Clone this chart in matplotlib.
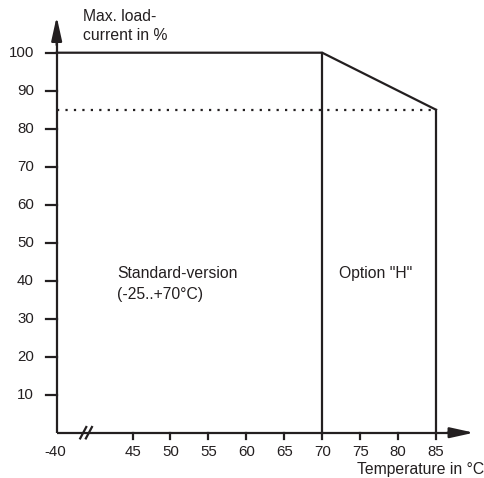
import matplotlib
matplotlib.use("Agg")
import matplotlib.pyplot as plt

# Data
temps = [-40, 70, 85]          # curve breakpoints (°C)
load = [100, 100, 85]          # max load current (%)
x_tick_vals = [45, 50, 55, 60, 65, 70, 75, 80, 85]
x_tick_labels = [str(v) for v in x_tick_vals]
y_tick_vals = [10, 20, 30, 40, 50, 60, 70, 80, 90, 100]
y_tick_labels = [str(v) for v in y_tick_vals]
dotted_level = 85

plt.rcParams['font.family'] = ['Liberation Sans', 'DejaVu Sans']
C = '#231f20'
FS_T = 10.8
FS_L = 11.3

fig = plt.figure(figsize=(4.85, 4.78), dpi=100)
ax = fig.add_axes([0, 0, 1, 1])
ax.set_xlim(27.53, 91.46)
ax.set_ylim(-11.92, 113.87)
ax.axis('off')

# broken axis: -40 is drawn at display position 35
def px(t):
    return 35 if t == -40 else t

X0 = px(-40)
lw = 1.6
arrow_style = '-|>,head_length=1.45,head_width=0.32'

# axes with arrows
ax.plot([X0, 88], [0, 0], color=C, lw=lw, solid_capstyle='butt')
ax.annotate('', xy=(90.0, 0), xytext=(86.5, 0),
            arrowprops=dict(arrowstyle=arrow_style, color=C, lw=lw, shrinkA=0, shrinkB=0))
ax.plot([X0, X0], [0, 104], color=C, lw=lw, solid_capstyle='butt')
ax.annotate('', xy=(X0, 109.5), xytext=(X0, 102),
            arrowprops=dict(arrowstyle=arrow_style, color=C, lw=lw, shrinkA=0, shrinkB=0))

# curve
xs = [px(t) for t in temps]
ax.plot(xs, load, color=C, lw=lw, solid_joinstyle='miter')
# vertical boundaries
ax.plot([px(70), px(70)], [0, 100], color=C, lw=lw)
ax.plot([px(85), px(85)], [0, 85], color=C, lw=lw)
# dotted reference line
ax.plot([X0, px(85)], [dotted_level, dotted_level], color=C, lw=1.6,
        linestyle=(0, (1, 2.8)))

# x ticks
for v, lab in zip(x_tick_vals, x_tick_labels):
    ax.plot([v, v], [0, -1.7], color=C, lw=lw)
    ax.text(v, -5.2, lab, ha='center', va='center', fontsize=FS_T, color=C)
ax.text(X0 - 0.2, -5.2, '-40', ha='center', va='center', fontsize=FS_T, color=C)

# y ticks
for v, lab in zip(y_tick_vals, y_tick_labels):
    ax.plot([X0 - 1.35, X0], [v, v], color=C, lw=lw)
    ax.text(X0 - 3.0, v, lab, ha='right', va='center', fontsize=FS_T, color=C)

# axis break marks
for xb in [38.5, 39.25]:
    ax.plot([xb - 0.4, xb + 0.4], [-1.5, 1.5], color=C, lw=1.6)

# labels
ax.text(38.5, 109.5, 'Max. load-', ha='left', va='center', fontsize=FS_L, color=C)
ax.text(38.5, 104.4, 'current in %', ha='left', va='center', fontsize=FS_L, color=C)
ax.text(91.3, -9.8, 'Temperature in °C', ha='right', va='center', fontsize=FS_L, color=C)
ax.text(43.0, 41.8, 'Standard-version', ha='left', va='center', fontsize=FS_L, color=C)
ax.text(43.0, 36.3, '(-25..+70°C)', ha='left', va='center', fontsize=FS_L, color=C)
ax.text(72.2, 41.8, 'Option "H"', ha='left', va='center', fontsize=FS_L, color=C)

fig.savefig('out.png', dpi=100)
